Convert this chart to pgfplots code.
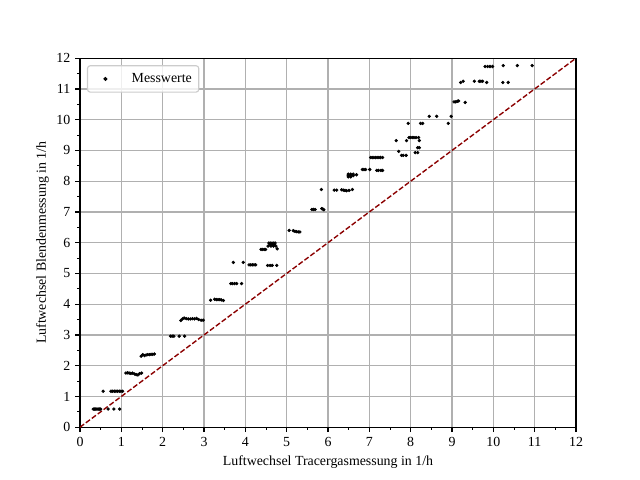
\documentclass[border=0pt]{standalone}
\usepackage{fontspec}
\setmainfont{Liberation Serif}
\usepackage{pgfplots}
\usepackage{pgfplotstable}
\pgfplotsset{compat=1.18}
\definecolor{darkred}{RGB}{139,0,0}
\definecolor{gridgray}{RGB}{176,176,176}
\definecolor{legframe}{RGB}{204,204,204}
\pgfplotstableread{
x y
0.32 0.59
0.35 0.59
0.38 0.59
0.41 0.59
0.44 0.59
0.47 0.59
0.50 0.59
0.68 0.59
0.82 0.59
0.96 0.59
0.56 1.17
0.75 1.17
0.79 1.17
0.83 1.17
0.87 1.17
0.91 1.17
0.95 1.17
0.99 1.17
1.03 1.17
1.11 1.76
1.15 1.77
1.19 1.76
1.23 1.75
1.27 1.76
1.32 1.73
1.36 1.71
1.40 1.70
1.44 1.74
1.49 1.76
1.48 2.31
1.52 2.36
1.56 2.33
1.60 2.35
1.64 2.36
1.68 2.36
1.72 2.37
1.76 2.37
1.80 2.38
2.19 2.96
2.23 2.96
2.27 2.96
2.40 2.96
2.53 2.96
2.44 3.47
2.48 3.52
2.52 3.55
2.57 3.53
2.62 3.52
2.67 3.52
2.72 3.53
2.77 3.52
2.82 3.54
2.87 3.50
2.93 3.48
2.98 3.48
3.16 4.13
3.26 4.16
3.30 4.15
3.34 4.15
3.38 4.15
3.42 4.14
3.47 4.12
3.65 4.67
3.69 4.67
3.74 4.67
3.79 4.67
3.91 4.67
3.71 5.36
3.95 5.36
4.09 5.28
4.13 5.28
4.17 5.28
4.21 5.28
4.25 5.28
4.54 5.26
4.60 5.26
4.65 5.26
4.76 5.26
4.38 5.78
4.42 5.78
4.46 5.78
4.49 5.78
4.57 5.99
4.62 5.99
4.67 5.99
4.72 5.99
4.55 5.89
4.60 5.94
4.65 5.94
4.70 5.94
4.74 5.89
4.62 5.89
4.68 5.89
4.77 5.80
5.06 6.40
5.16 6.39
5.20 6.37
5.24 6.36
5.28 6.35
5.32 6.35
5.61 7.08
5.65 7.08
5.69 7.08
5.85 7.11
5.88 7.09
5.90 7.07
5.84 7.73
6.15 7.71
6.21 7.71
6.33 7.72
6.37 7.71
6.41 7.70
6.45 7.69
6.51 7.70
6.59 7.73
6.49 8.23
6.55 8.23
6.61 8.23
6.49 8.18
6.55 8.18
6.61 8.18
6.49 8.14
6.55 8.14
6.69 8.21
6.83 8.38
6.87 8.38
6.91 8.38
7.01 8.38
7.18 8.35
7.22 8.35
7.28 8.35
7.32 8.35
7.03 8.77
7.07 8.77
7.11 8.77
7.15 8.77
7.19 8.77
7.23 8.77
7.27 8.77
7.32 8.77
7.65 9.32
7.71 8.97
7.78 8.84
7.82 8.84
7.89 8.84
7.90 9.32
7.94 9.88
7.96 9.42
8.00 9.42
8.04 9.42
8.08 9.42
8.13 9.42
8.19 9.42
8.21 9.32
8.17 9.09
8.21 9.09
8.11 8.93
8.17 8.93
8.24 9.88
8.29 9.88
8.45 10.11
8.63 10.11
8.91 9.88
8.98 10.11
9.05 10.58
9.09 10.58
9.13 10.60
9.16 10.61
9.32 10.56
9.21 11.21
9.27 11.25
9.54 11.25
9.66 11.25
9.70 11.25
9.74 11.25
9.84 11.21
9.80 11.73
9.86 11.73
9.92 11.73
9.98 11.73
10.23 11.21
10.24 11.76
10.36 11.21
10.58 11.76
10.94 11.76
}\messdata
\begin{document}
\begin{tikzpicture}
\useasboundingbox (-57.6pt,-38.016pt) rectangle (403.2pt,307.584pt);
\begin{axis}[
  at={(0,0)}, anchor=south west,
  scale only axis, width=357.12pt, height=265.68pt,
  xmin=0, xmax=12, ymin=0, ymax=12,
  xtick={0,1,...,12}, ytick={0,1,...,12},
  minor x tick num=1, minor y tick num=1,
  xtick pos=bottom, ytick pos=left,
  tick align=outside,
  major tick length=3.5pt, minor tick length=2pt,
  major tick style={line width=0.8pt, black},
  minor tick style={line width=0.6pt, black},
  grid=major,
  major grid style={line width=0.8pt, gridgray},
  axis line style={line width=0.8pt},
  /pgf/number format/assume math mode=true,
  tick label style={font=\fontsize{10}{12}\selectfont},
  label style={font=\fontsize{10}{12}\selectfont},
  xlabel={Luftwechsel Tracergasmessung in 1/h},
  ylabel={Luftwechsel Blendenmessung in 1/h},
  ylabel style={yshift=-1.5pt},
  legend style={at={(0,1)}, anchor=north west, xshift=5pt, yshift=-5pt,
    draw=legframe, line width=0.8pt, rounded corners=2pt, fill=white, fill opacity=0.8, text opacity=1,
    font=\fontsize{10}{12}\selectfont, inner xsep=3pt, inner ysep=3.5pt,
    nodes={inner sep=2pt}},
  legend cell align=left,
  legend image code/.code={\path (0pt,0pt) (26pt,0pt); \draw[#1] plot coordinates {(9.5pt,0pt)};},
]
\addplot[only marks, mark=*, mark size=1pt, black] table[x=x,y=y] {\messdata};
\addlegendentry{Messwerte}
\addplot[darkred, line width=1pt, dash pattern=on 3.7pt off 1.6pt, forget plot] coordinates {(0,0) (12,12)};
\end{axis}
\end{tikzpicture}
\end{document}
